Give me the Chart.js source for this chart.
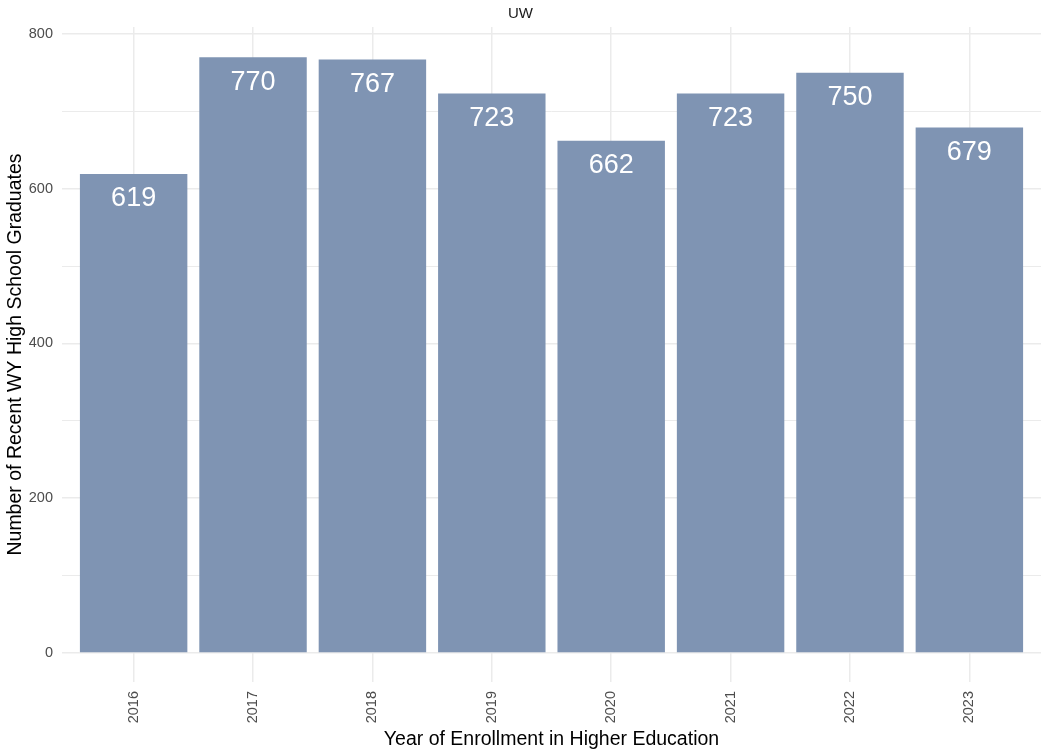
<!DOCTYPE html>
<html>
<head>
<meta charset="utf-8">
<script src="https://cdn.jsdelivr.net/npm/chart.js@4/dist/chart.umd.min.js"></script>
<style>
  html, body { margin: 0; padding: 0; background: #ffffff; }
  #wrap { width: 1045px; height: 752px; position: relative; }
</style>
</head>
<body>
<div id="wrap"><canvas id="chart" width="1045" height="752"></canvas></div>
<script>
// Enrollment counts of recent WY high school graduates at UW
const years = ['2016', '2017', '2018', '2019', '2020', '2021', '2022', '2023'];
const graduates = [619, 770, 767, 723, 662, 723, 750, 679];
const yTickValues = [0, 100, 200, 300, 400, 500, 600, 700, 800];
const yTickLabels = ['0', '', '200', '', '400', '', '600', '', '800'];

const FONT = '"Liberation Sans", Arial, Helvetica, sans-serif';

// White value labels just inside the top of each bar
const valueLabels = {
  id: 'valueLabels',
  afterDatasetsDraw(chart) {
    const ctx = chart.ctx;
    const meta = chart.getDatasetMeta(0);
    ctx.save();
    ctx.fillStyle = '#ffffff';
    ctx.font = '27px ' + FONT;
    ctx.textAlign = 'center';
    ctx.textBaseline = 'middle';
    meta.data.forEach((bar, i) => {
      ctx.fillText(String(graduates[i]), bar.x, bar.y + 25);
    });
    ctx.restore();
  }
};

new Chart(document.getElementById('chart'), {
  type: 'bar',
  data: {
    datasets: [{
      data: graduates.map((v, i) => ({ x: i + 1, y: v })),
      backgroundColor: '#7F94B3',
      borderWidth: 0,
      barPercentage: 0.9,
      categoryPercentage: 1.0
    }]
  },
  options: {
    responsive: false,
    animation: false,
    layout: { padding: { top: 0, right: 4, left: 0, bottom: 0 } },
    plugins: {
      legend: { display: false },
      tooltip: { enabled: false },
      title: {
        display: true,
        text: 'UW',
        color: '#1A1A1A',
        font: { family: FONT, size: 15, weight: 'normal' },
        padding: { top: 5, bottom: 4 }
      }
    },
    scales: {
      x: {
        type: 'linear',
        min: 0.4,
        max: 8.6,
        offset: false,
        afterBuildTicks(scale) {
          scale.ticks = years.map((_, i) => ({ value: i + 1 }));
        },
        afterFit(scale) { scale.height = 70; },
        ticks: {
          callback: (v) => years[Math.round(v) - 1] || '',
          color: '#4D4D4D',
          font: { family: FONT, size: 14.5 },
          minRotation: 90,
          maxRotation: 90,
          autoSkip: false,
          padding: 9
        },
        grid: { color: '#EBEBEB', lineWidth: 1.5, drawTicks: false, offset: false },
        border: { display: false },
        title: {
          display: true,
          text: 'Year of Enrollment in Higher Education',
          color: '#000000',
          font: { family: FONT, size: 19.5 },
          padding: { top: 0, bottom: 1 }
        }
      },
      y: {
        min: -37.5,
        max: 809,
        afterBuildTicks(scale) {
          scale.ticks = yTickValues.map(v => ({ value: v }));
        },
        afterFit(scale) { scale.width = 62; },
        ticks: {
          callback: (v) => yTickLabels[yTickValues.indexOf(v)],
          color: '#4D4D4D',
          font: { family: FONT, size: 14.5 },
          padding: 9
        },
        grid: {
          color: '#EBEBEB',
          lineWidth: (ctx) => (ctx.tick && ctx.tick.value % 200 === 0) ? 1.5 : 1,
          drawTicks: false
        },
        border: { display: false },
        title: {
          display: true,
          text: 'Number of Recent WY High School Graduates',
          color: '#000000',
          font: { family: FONT, size: 19.5 },
          padding: { top: 4, bottom: 0 }
        }
      }
    }
  },
  plugins: [valueLabels]
});
</script>
</body>
</html>
